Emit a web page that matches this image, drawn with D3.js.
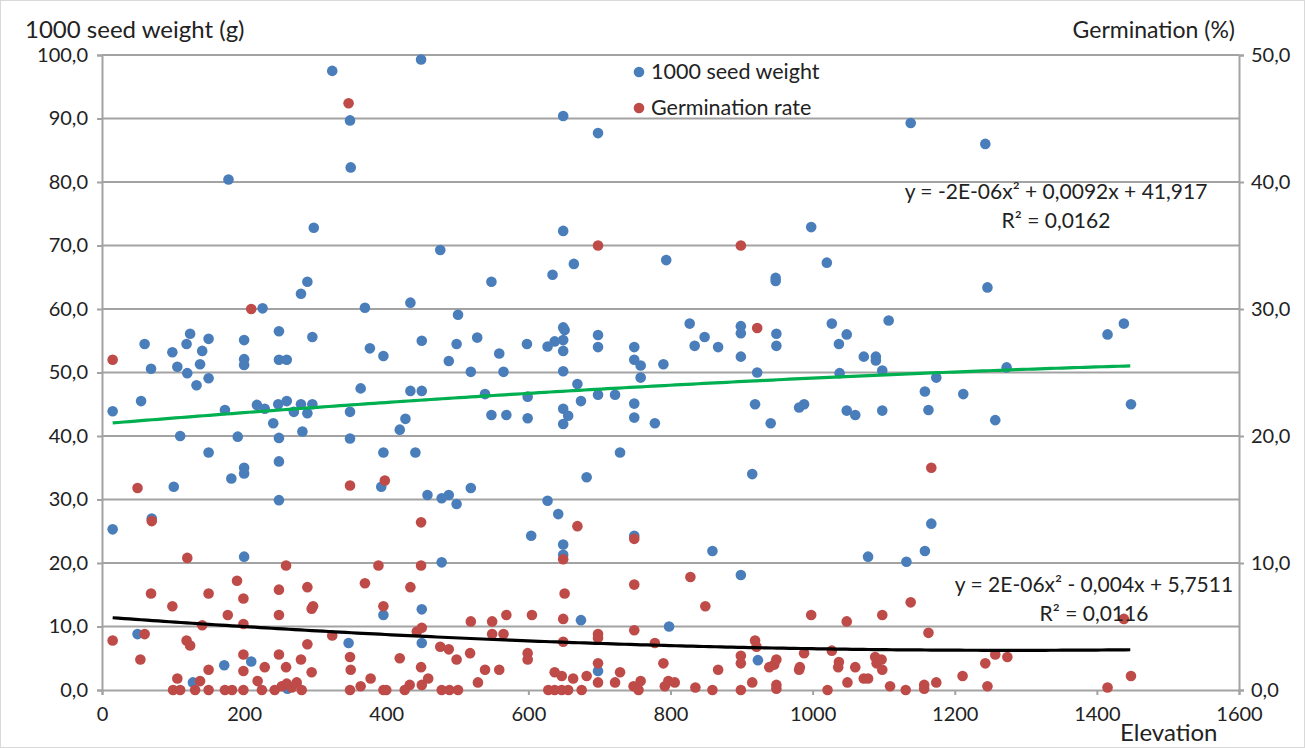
<!DOCTYPE html>
<html>
<head>
<meta charset="utf-8">
<script src="https://cdn.jsdelivr.net/npm/d3@7"></script>
<style>
  html, body { margin: 0; padding: 0; background: #fff; }
  svg { display: block; }
  text { font-family: Lato, "Liberation Sans", sans-serif; fill: #222; }
</style>
</head>
<body>
<svg id="chart" width="1305" height="748"></svg>
<script>
// 1000 seed weight (g) by elevation (m)
const seedWeight = [
  [324,97.5],[449,99.3],[349,89.7],[350,82.3],[178,80.4],[298,72.8],
  [649,90.4],[698,87.7],[649,72.3],[476,69.3],[664,67.1],[794,67.7],
  [1138,89.3],[998,72.9],[1020,67.3],[1243,86.0],
  [289,64.3],[280,62.4],[226,60.1],[370,60.2],[60,54.5],[69,50.6],[99,53.2],[106,50.9],
  [119,54.5],[124,56.1],[120,49.9],[133,48.0],[138,51.3],[141,53.4],[150,55.3],[150,49.1],
  [200,55.1],[200,52.1],[200,51.2],[249,56.5],[249,52.0],[260,52.0],[296,55.6],[377,53.8],
  [396,52.6],[364,47.5],[15,43.9],[55,45.5],[173,44.1],[218,44.9],[229,44.3],[248,45.0],
  [260,45.5],[270,43.8],[280,45.0],[289,43.6],[296,45.0],[349,43.8],[241,42.0],[282,40.7],
  [110,40.0],[191,39.9],[249,39.7],[349,39.6],[150,37.4],[249,36.0],[396,37.4],[182,33.3],
  [200,35.0],[200,34.1],[101,32.0],[393,32.0],
  [548,64.3],[634,65.4],[434,61.0],[501,59.1],[450,55.0],[499,54.5],[528,55.5],[488,51.8],
  [519,50.1],[559,53.0],[565,50.1],[598,54.5],[627,54.1],[637,54.9],[649,57.1],[651,56.7],
  [649,55.1],[649,53.4],[649,50.2],[698,55.9],[698,54.0],[749,54.0],[749,52.0],[758,51.1],
  [758,49.2],[790,51.3],[434,47.1],[450,47.1],[539,46.6],[599,46.2],[669,48.2],[674,45.5],
  [698,46.5],[722,46.5],[749,45.1],[749,42.9],[778,42.0],[649,44.3],[656,43.2],[649,41.9],
  [548,43.3],[569,43.3],[599,42.8],[427,42.7],[419,41.0],[441,37.4],[729,37.4],[682,33.5],
  [519,31.8],
  [948,64.9],[948,64.4],[827,57.7],[848,55.6],[834,54.2],[867,54.0],[899,57.3],[899,56.2],
  [899,52.5],[949,56.1],[949,54.2],[922,50.0],[1027,57.7],[1048,56.0],[1037,54.5],[1107,58.2],
  [1072,52.5],[1089,52.5],[1089,51.9],[1098,50.3],[1038,49.9],[1174,49.2],[1158,47.0],[1212,46.6],
  [919,45.0],[981,44.5],[988,45.0],[1048,44.0],[1060,43.3],[1098,44.0],[1163,44.1],[941,42.0],
  [915,34.0],
  [1246,63.4],[1415,56.0],[1438,57.7],[1273,50.8],[1257,42.5],[1448,45.0],
  [249,29.9],[15,25.3],[70,27.0],[200,21.0],[396,11.8],[50,8.8],[347,7.4],[210,4.5],
  [172,3.9],[128,1.2],[261,0.2],
  [458,30.7],[478,30.2],[488,30.7],[499,29.3],[627,29.8],[642,27.7],[604,24.3],[649,22.9],
  [649,21.3],[749,24.3],[478,20.1],[450,12.7],[674,11.0],[798,10.0],[450,7.4],[698,3.0],
  [859,21.9],[899,18.1],[1078,21.0],[1132,20.2],[1158,21.9],[1167,26.2],[923,4.7]
];

// Germination rate (%) by elevation (m), read against the right-hand axis
const germination = [
  [347,46.2],[698,35.0],[899,35.0],[210,30.0],[15,26.0],[922,28.5],[1167,17.5],
  [50,15.9],[349,16.1],[398,16.5],[70,13.3],[120,10.4],[259,9.8],[389,9.8],[190,8.6],
  [69,7.6],[150,7.6],[199,7.2],[249,7.9],[289,8.1],[370,8.4],[297,6.6],[295,6.4],[99,6.6],
  [177,5.9],[249,5.9],[396,6.6],[141,5.1],[199,5.2],[324,4.3],[15,3.9],[60,4.4],[119,3.9],
  [124,3.5],[289,3.6],[54,2.4],[199,2.8],[249,2.8],[280,2.4],[349,2.6],[150,1.6],[199,1.5],
  [229,1.8],[259,1.8],[295,1.4],[350,1.6],[378,0.9],[364,0.3],[106,0.9],[219,0.7],[138,0.7],
  [100,0],[110,0],[131,0],[150,0],[173,0],[183,0],[199,0],[225,0],[243,0],[253,0.3],
  [260,0.5],[267,0.2],[274,0.6],[281,0],[349,0],[396,0],
  [669,12.9],[449,13.2],[649,10.3],[749,11.9],[449,9.8],[434,8.1],[651,7.6],[749,8.3],
  [519,5.4],[549,5.4],[569,5.9],[605,5.9],[649,5.6],[443,4.6],[450,4.9],[549,4.4],[565,4.4],
  [698,4.4],[698,4.1],[749,4.7],[649,3.8],[778,3.7],[476,3.4],[488,3.2],[518,2.9],[599,2.9],
  [599,2.4],[419,2.5],[499,2.4],[449,1.8],[539,1.6],[559,1.6],[698,2.1],[790,2.1],[459,0.9],
  [450,0.4],[433,0.4],[529,0.6],[637,1.4],[647,1.1],[663,0.9],[682,1.1],[729,1.4],[722,0.6],
  [698,0.6],[758,0.7],[748,0.3],[797,0.7],[792,0.3],
  [400,0],[426,0],[478,0],[489,0],[501,0],[628,0],[637,0],[647,0],[656,0],[675,0],[755,0],
  [828,8.9],[849,6.6],[998,5.9],[1048,5.4],[1098,5.9],[1138,6.9],[1163,4.5],[919,3.9],
  [921,3.4],[899,2.7],[899,2.1],[949,2.4],[946,2.0],[939,1.8],[988,2.9],[982,1.8],[981,1.6],
  [1027,3.1],[1037,2.2],[1036,1.8],[1060,1.8],[1088,2.6],[1097,2.4],[1090,2.1],[1098,1.6],
  [867,1.6],[1072,0.9],[1078,0.9],[1049,0.6],[915,0.6],[835,0.2],[949,0.4],[949,0.1],
  [1109,0.3],[1157,0.4],[1157,0.1],[1174,0.6],[1211,1.1],[859,0],[899,0],[1021,0],[1131,0],
  [806,0.6],
  [1438,5.6],[1243,2.1],[1257,2.8],[1274,2.6],[1246,0.3],[1415,0.2],[1448,1.1]
];

// Polynomial (order 2) trend lines: [x², x, constant]
const weightTrend = [-2e-6, 0.0092, 41.917];
const germTrend = [1.6e-6, -0.0041, 5.7511];
const trendRange = [15, 1449];

const xTicks = [0, 200, 400, 600, 800, 1000, 1200, 1400, 1600];
const leftTicks = [0, 10, 20, 30, 40, 50, 60, 70, 80, 90, 100];
const rightTicks = [0, 10, 20, 30, 40, 50];

const seriesNames = ["1000 seed weight", "Germination rate"];
const weightEquation = ["y = -2E-06x² + 0,0092x + 41,917", "R² = 0,0162"];
const germEquation = ["y = 2E-06x² - 0,004x + 5,7511", "R² = 0,0116"];

const BLUE = "#4a7ebb", RED = "#be4b48", GREEN = "#00b050", GRID = "#a3a3a3";
const FONT = "Lato, 'Liberation Sans', sans-serif";

const svg = d3.select("#chart");
const m = { left: 102, right: 1239, top: 55, bottom: 690 };

const x = d3.scaleLinear().domain([0, 1600]).range([m.left, m.right]);
const yL = d3.scaleLinear().domain([0, 100]).range([m.bottom, m.top]);
const yR = d3.scaleLinear().domain([0, 50]).range([m.bottom, m.top]);
const fmt = d => d3.format(".1f")(d).replace(".", ",");

// outer frame
svg.append("rect").attr("x", 0.5).attr("y", 0.5).attr("width", 1304).attr("height", 747)
  .attr("fill", "none").attr("stroke", "#d9d9d9");

// horizontal gridlines
svg.append("g").selectAll("line").data(leftTicks.filter(d => d > 0)).join("line")
  .attr("x1", m.left).attr("x2", m.right)
  .attr("y1", d => yL(d)).attr("y2", d => yL(d))
  .attr("stroke", GRID).attr("stroke-width", 2);

// axes
const axL = svg.append("g").attr("transform", `translate(${m.left},0)`)
  .call(d3.axisLeft(yL).tickValues(leftTicks).tickFormat(fmt).tickSize(5).tickPadding(9));
const axR = svg.append("g").attr("transform", `translate(${m.right},0)`)
  .call(d3.axisRight(yR).tickValues(rightTicks).tickFormat(fmt).tickSize(5).tickPadding(7));
const axB = svg.append("g").attr("transform", `translate(0,${m.bottom})`)
  .call(d3.axisBottom(x).tickValues(xTicks).tickFormat(d3.format("d")).tickSize(5).tickPadding(12));
[axL, axR, axB].forEach(g => {
  g.select(".domain").attr("stroke", GRID).attr("stroke-width", 2);
  g.selectAll(".tick line").attr("stroke", GRID).attr("stroke-width", 2);
  g.selectAll("text").style("font-size", "20px").attr("fill", "#222").style("font-family", FONT);
});

// axis titles
svg.append("text").attr("x", 25).attr("y", 38).style("font-size", "24px").text("1000 seed weight (g)");
svg.append("text").attr("x", 1235).attr("y", 38).attr("text-anchor", "end").style("font-size", "23px").text("Germination (%)");
svg.append("text").attr("x", 1120).attr("y", 741).style("font-size", "24px").text("Elevation");

// points
svg.append("g").selectAll("circle").data(seedWeight).join("circle")
  .attr("cx", d => x(d[0])).attr("cy", d => yL(d[1])).attr("r", 5.3).attr("fill", BLUE);
svg.append("g").selectAll("circle").data(germination).join("circle")
  .attr("cx", d => x(d[0])).attr("cy", d => yR(d[1])).attr("r", 5.3).attr("fill", RED);

// trend lines
const poly = c => v => c[0] * v * v + c[1] * v + c[2];
const xs = d3.range(trendRange[0], trendRange[1] + 1, 8);
const line = (fn, ys) => d3.line().x(v => x(v)).y(v => ys(fn(v)));
svg.append("path").datum(xs).attr("d", line(poly(weightTrend), yL))
  .attr("fill", "none").attr("stroke", GREEN).attr("stroke-width", 3.2);
svg.append("path").datum(xs).attr("d", line(poly(germTrend), yR))
  .attr("fill", "none").attr("stroke", "#000").attr("stroke-width", 3.2);

// trend equations, each block centred
const eq = (lines, cx, y0) => {
  lines.forEach((t, i) => {
    svg.append("text").attr("x", cx).attr("y", y0 + i * 29).attr("text-anchor", "middle")
      .style("font-size", "21px").text(t);
  });
};
eq(weightEquation, 1056, 199);
eq(germEquation, 1094, 592);

// legend
const legend = svg.append("g");
seriesNames.forEach((name, i) => {
  const ly = 72 + i * 36;
  legend.append("circle").attr("cx", 639).attr("cy", ly).attr("r", 5.3).attr("fill", i ? RED : BLUE);
  legend.append("text").attr("x", 651).attr("y", ly + 7).style("font-size", "21.5px").text(name);
});
</script>
</body>
</html>
